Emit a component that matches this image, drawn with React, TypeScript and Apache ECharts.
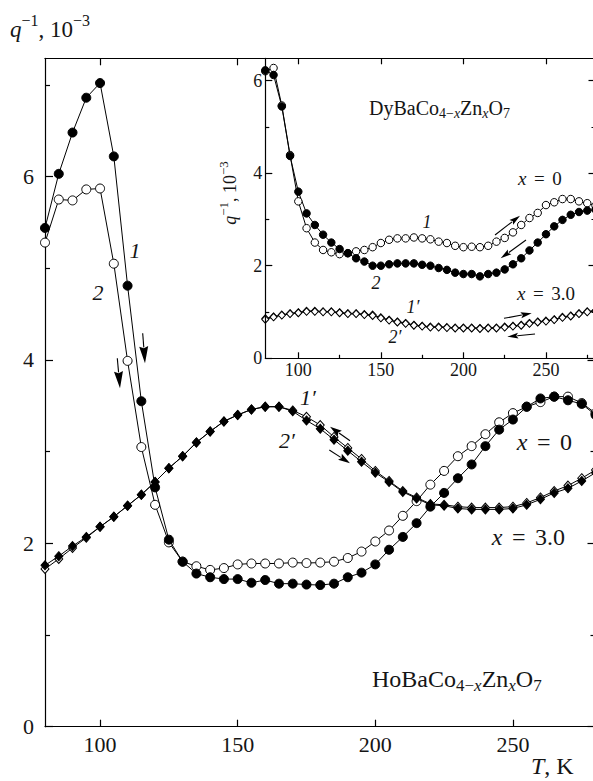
import { useEffect, useRef } from 'react';
import * as echarts from 'echarts';

// ---------- data ----------
const temps = [80, 85, 90, 95, 100, 105, 110, 115, 120, 125, 130, 135, 140, 145, 150, 155, 160, 165, 170, 175, 180, 185, 190, 195, 200, 205, 210, 215, 220, 225, 230, 235, 240, 245, 250, 255, 260, 265, 270, 275, 280];

// main panel, HoBaCo(4-x)Zn(x)O7
const hoX0Curve1 = [5.44, 6.03, 6.48, 6.86, 7.02, 6.22, 4.81, 3.55, 2.61, 2.04, 1.80, 1.67, 1.63, 1.61, 1.61, 1.57, 1.60, 1.56, 1.56, 1.55, 1.545, 1.56, 1.63, 1.68, 1.77, 1.93, 2.07, 2.22, 2.40, 2.55, 2.71, 2.86, 3.06, 3.24, 3.35, 3.49, 3.58, 3.60, 3.56, 3.52, 3.40];
const hoX0Curve2 = [5.28, 5.75, 5.74, 5.86, 5.87, 5.05, 3.99, 3.05, 2.42, 2.01, 1.80, 1.75, 1.71, 1.73, 1.77, 1.78, 1.78, 1.78, 1.79, 1.785, 1.79, 1.80, 1.84, 1.91, 2.02, 2.14, 2.30, 2.46, 2.64, 2.79, 2.95, 3.06, 3.19, 3.32, 3.42, 3.49, 3.54, 3.60, 3.60, 3.53, 3.42];
const hoX3Curve1 = [1.72, 1.83, 1.95, 2.06, 2.18, 2.29, 2.41, 2.53, 2.67, 2.82, 2.95, 3.10, 3.22, 3.33, 3.40, 3.46, 3.49, 3.49, 3.45, 3.38, 3.29, 3.16, 3.04, 2.92, 2.79, 2.68, 2.57, 2.50, 2.43, 2.42, 2.40, 2.39, 2.39, 2.39, 2.40, 2.44, 2.50, 2.57, 2.63, 2.71, 2.80];
const hoX3Curve2 = [1.76, 1.86, 1.97, 2.07, 2.18, 2.29, 2.41, 2.53, 2.67, 2.82, 2.95, 3.10, 3.22, 3.33, 3.40, 3.46, 3.49, 3.49, 3.44, 3.34, 3.25, 3.13, 3.01, 2.89, 2.77, 2.67, 2.56, 2.49, 2.42, 2.41, 2.38, 2.37, 2.37, 2.37, 2.38, 2.42, 2.48, 2.55, 2.60, 2.68, 2.77];

// inset, DyBaCo(4-x)Zn(x)O7
const dyX0Curve1 = [6.20, 6.27, 5.46, 4.39, 3.39, 2.81, 2.50, 2.34, 2.29, 2.25, 2.27, 2.31, 2.34, 2.40, 2.49, 2.56, 2.59, 2.59, 2.61, 2.59, 2.57, 2.52, 2.49, 2.43, 2.40, 2.41, 2.40, 2.43, 2.52, 2.60, 2.72, 2.88, 3.03, 3.14, 3.31, 3.37, 3.44, 3.44, 3.39, 3.35, 3.30];
const dyX0Curve2 = [6.22, 6.12, 5.44, 4.37, 3.60, 3.13, 2.88, 2.67, 2.50, 2.36, 2.27, 2.16, 2.09, 2.00, 2.00, 2.03, 2.05, 2.05, 2.05, 2.02, 2.00, 1.95, 1.91, 1.85, 1.82, 1.82, 1.77, 1.82, 1.85, 1.92, 2.03, 2.16, 2.33, 2.50, 2.68, 2.85, 2.99, 3.10, 3.16, 3.19, 3.21];
const dyX3Curve1 = [0.86, 0.90, 0.94, 0.97, 0.99, 1.02, 1.02, 1.01, 1.01, 0.99, 0.97, 0.97, 0.95, 0.94, 0.88, 0.83, 0.79, 0.76, 0.72, 0.70, 0.68, 0.68, 0.67, 0.66, 0.66, 0.66, 0.65, 0.66, 0.66, 0.68, 0.70, 0.72, 0.76, 0.79, 0.81, 0.84, 0.89, 0.92, 0.97, 1.01, 1.03];
const dyX3Curve2 = [0.84, 0.89, 0.93, 0.96, 0.98, 1.01, 1.01, 1.00, 1.00, 0.98, 0.96, 0.96, 0.94, 0.92, 0.87, 0.82, 0.78, 0.75, 0.71, 0.69, 0.67, 0.67, 0.66, 0.65, 0.65, 0.65, 0.64, 0.65, 0.65, 0.67, 0.69, 0.71, 0.75, 0.78, 0.80, 0.83, 0.88, 0.91, 0.96, 1.00, 1.02];

// ticks
const xMajorTicks = [100, 150, 200, 250];
const insetXMinorTicks = [125, 175, 225, 275];
const mainYMajorTicks = [0, 2, 4, 6];
const mainYMinorTicks = [1, 3, 5, 7];
const insetYMajorTicks = [0, 2, 4, 6];
const insetYMinorTicks = [1, 3, 5];

// ---------- layout / style ----------
const FONT = '"Liberation Serif", "DejaVu Serif", serif';
const TXT = '#151515';
const AXL = { color: '#000', width: 1.2 };
const MAIN = { left: 45, right: 595.5, top: 58.3, bottom: 726.7, min: 80, max: 280, ymax: 7.29 };
const INSET = { left: 265.3, right: 595.5, top: 58.3, bottom: 358.3, min: 80, max: 280, ymax: 6.48 };

const mkAxis = (o: any) => ({
  type: 'value',
  gridIndex: o.grid,
  position: o.pos,
  min: o.min,
  max: o.max,
  z: o.z,
  silent: true,
  axisLine: { show: o.line !== false, onZero: false, lineStyle: AXL },
  axisTick: { show: true, inside: true, length: o.len, customValues: o.ticks, lineStyle: AXL },
  axisLabel: o.labels
    ? { show: true, customValues: o.labels, fontSize: o.fs, fontFamily: FONT, color: TXT, margin: o.margin }
    : { show: false },
  splitLine: { show: false },
  minorTick: { show: false },
  axisPointer: { show: false },
});

const mkSeries = (data: number[], xi: number, yi: number, symbol: string, size: any, filled: boolean, z: number) => ({
  type: 'line',
  data: temps.map((t, i) => [t, data[i]]),
  xAxisIndex: xi,
  yAxisIndex: yi,
  symbol,
  symbolSize: size,
  showSymbol: true,
  showAllSymbol: true,
  lineStyle: { color: '#000', width: 1 },
  itemStyle: { color: filled ? '#000' : '#fff', borderColor: '#000', borderWidth: 1 },
  emphasis: { disabled: true },
  silent: true,
  z,
});

const richFor = (F: number) => ({
  b: { fontSize: F, fontFamily: FONT, fill: TXT, color: TXT },
  i: { fontSize: F, fontFamily: FONT, fontStyle: 'italic', fill: TXT, color: TXT },
  s: { fontSize: Math.round(F * 0.7), fontFamily: FONT, fill: TXT, color: TXT, padding: [F * 0.55, 0, 0, 0] },
  si: { fontSize: Math.round(F * 0.7), fontFamily: FONT, fontStyle: 'italic', fill: TXT, color: TXT, padding: [F * 0.55, 0, 0, 0] },
  p: { fontSize: Math.round(F * 0.7), fontFamily: FONT, fill: TXT, color: TXT, padding: [0, 0, F * 0.7, 0] },
  eq: { fontSize: F, fontFamily: FONT, fill: TXT, color: TXT, padding: [0, F * 0.4, 0, F * 0.4] },
});

const txt = (x: number, y: number, text: string, F: number, align = 'left', extra: any = {}) => ({
  type: 'text',
  x,
  y,
  z: 30,
  silent: true,
  style: {
    text,
    rich: richFor(F),
    fontSize: F,
    fontFamily: FONT,
    fill: TXT,
    align,
    textAlign: align,
    verticalAlign: 'middle',
    textVerticalAlign: 'middle',
  },
  ...extra,
});

const arrow = (x1: number, y1: number, x2: number, y2: number, hl: number, hw: number) => {
  const dx = x2 - x1;
  const dy = y2 - y1;
  const L = Math.hypot(dx, dy);
  const ux = dx / L;
  const uy = dy / L;
  const bx = x2 - ux * hl;
  const by = y2 - uy * hl;
  const px = (-uy * hw) / 2;
  const py = (ux * hw) / 2;
  return [
    { type: 'line', z: 30, silent: true, shape: { x1, y1, x2: bx + ux, y2: by + uy }, style: { stroke: '#000', lineWidth: 1.1 } },
    {
      type: 'polygon',
      z: 30,
      silent: true,
      shape: { points: [[x2, y2], [bx + px, by + py], [bx + ux * 2, by + uy * 2], [bx - px, by - py]] },
      style: { fill: '#000' },
    },
  ];
};

export default function App() {
  const ref = useRef<HTMLDivElement>(null);
  useEffect(() => {
    const chart = echarts.init(ref.current!, null, { renderer: 'svg' });
    const option: any = {
      animation: false,
      backgroundColor: '#fff',
      grid: [
        {
          left: MAIN.left, top: MAIN.top, width: MAIN.right - MAIN.left, height: MAIN.bottom - MAIN.top,
          containLabel: false, outerBoundsMode: 'none', show: false,
        },
        {
          left: INSET.left, top: INSET.top, width: INSET.right - INSET.left, height: INSET.bottom - INSET.top,
          containLabel: false, outerBoundsMode: 'none', show: false,
        },
      ],
      xAxis: [
        mkAxis({ grid: 0, pos: 'bottom', min: MAIN.min, max: MAIN.max, ticks: xMajorTicks, len: 7, labels: xMajorTicks, fs: 22, margin: 7, z: 1 }),
        mkAxis({ grid: 0, pos: 'top', min: MAIN.min, max: MAIN.max, ticks: xMajorTicks, len: 7, z: 1 }),
        mkAxis({ grid: 1, pos: 'bottom', min: INSET.min, max: INSET.max, ticks: xMajorTicks, len: 6, labels: xMajorTicks, fs: 18, margin: 3, z: 11 }),
        mkAxis({ grid: 1, pos: 'bottom', min: INSET.min, max: INSET.max, ticks: insetXMinorTicks, len: 3.5, line: false, z: 11 }),
        mkAxis({ grid: 1, pos: 'top', min: INSET.min, max: INSET.max, ticks: xMajorTicks, len: 6, z: 11 }),
      ],
      yAxis: [
        mkAxis({ grid: 0, pos: 'left', min: 0, max: MAIN.ymax, ticks: mainYMajorTicks, len: 8, labels: mainYMajorTicks, fs: 22, margin: 11, z: 1 }),
        mkAxis({ grid: 0, pos: 'left', min: 0, max: MAIN.ymax, ticks: mainYMinorTicks, len: 5, line: false, z: 1 }),
        mkAxis({ grid: 0, pos: 'right', min: 0, max: MAIN.ymax, ticks: mainYMajorTicks, len: 8, z: 1 }),
        mkAxis({ grid: 0, pos: 'right', min: 0, max: MAIN.ymax, ticks: mainYMinorTicks, len: 5, line: false, z: 1 }),
        mkAxis({ grid: 1, pos: 'left', min: 0, max: INSET.ymax, ticks: insetYMajorTicks, len: 7, labels: insetYMajorTicks, fs: 18, margin: 3, z: 11 }),
        mkAxis({ grid: 1, pos: 'left', min: 0, max: INSET.ymax, ticks: insetYMinorTicks, len: 4, line: false, z: 11 }),
        mkAxis({ grid: 1, pos: 'right', min: 0, max: INSET.ymax, ticks: insetYMajorTicks, len: 7, z: 11 }),
        mkAxis({ grid: 1, pos: 'right', min: 0, max: INSET.ymax, ticks: insetYMinorTicks, len: 4, line: false, z: 11 }),
      ],
      series: [
        mkSeries(hoX3Curve1, 0, 0, 'diamond', [8, 9], false, 2),
        mkSeries(hoX3Curve2, 0, 0, 'diamond', [8, 9], true, 3),
        mkSeries(hoX0Curve2, 0, 0, 'circle', 9, false, 2),
        mkSeries(hoX0Curve1, 0, 0, 'circle', 9, true, 3),
        mkSeries(dyX3Curve1, 2, 4, 'diamond', [7, 7.5], false, 10),
        mkSeries(dyX3Curve2, 2, 4, 'diamond', [7, 7.5], false, 10),
        mkSeries(dyX0Curve1, 2, 4, 'circle', 7.5, false, 10),
        mkSeries(dyX0Curve2, 2, 4, 'circle', 7.5, true, 10),
      ],
      graphic: {
        elements: [
          {
            type: 'rect', z: 5, silent: true,
            shape: { x: INSET.left, y: INSET.top, width: INSET.right - INSET.left, height: INSET.bottom - INSET.top },
            style: { fill: '#fff' },
          },
          // main panel texts
          txt(10, 29, '{i|q}{p|−1}{b|, 10}{p|−3}', 23),
          txt(531, 766, '{i|T}{b|, K}', 24),
          txt(135, 250, '{i|1}', 22, 'center'),
          txt(98, 292, '{i|2}', 22, 'center'),
          txt(308, 397, '{i|1′}', 22, 'center'),
          txt(287, 440, '{i|2′}', 22, 'center'),
          txt(516.7, 441.7, '{i|x}{eq|=}{b|0}', 24),
          txt(491.7, 536.7, '{i|x}{eq|=}{b|3.0}', 24),
          txt(372, 679, '{b|HoBaCo}{s|4−}{si|x}{b|Zn}{si|x}{b|O}{s|7}', 24),
          // inset texts
          txt(369, 108, '{b|DyBaCo}{s|4−}{si|x}{b|Zn}{si|x}{b|O}{s|7}', 20),
          txt(518, 178, '{i|x}{eq|=}{b|0}', 19),
          txt(517, 293, '{i|x}{eq|=}{b|3.0}', 19),
          txt(427, 222, '{i|1}', 18, 'center'),
          txt(376, 283, '{i|2}', 18, 'center'),
          txt(413, 307, '{i|1′}', 18, 'center'),
          txt(395, 337, '{i|2′}', 18, 'center'),
          txt(230, 193, '{i|q}{p|−1}{b|, 10}{p|−3}', 18, 'center', { rotation: Math.PI / 2 }),
          // arrows
          ...arrow(117.3, 358.3, 120, 388.3, 17, 9),
          ...arrow(142.7, 333.3, 145, 363.3, 17, 9),
          ...arrow(350, 440.7, 330, 426.7, 12, 7),
          ...arrow(329.3, 450, 350, 463.3, 12, 7),
          ...arrow(495, 235, 520, 215.7, 11, 6),
          ...arrow(526, 240, 500.7, 258.3, 11, 6),
          ...arrow(504, 318.3, 531.7, 313.3, 11, 6),
          ...arrow(535, 334, 507.3, 336.7, 11, 6),
        ],
      },
    };
    chart.setOption(option);
    return () => chart.dispose();
  }, []);
  return (
    <div style={{ position: 'fixed', left: 0, top: 0, width: 593, height: 781, overflow: 'hidden', background: '#fff' }}>
      <div ref={ref} style={{ width: 600, height: 781 }} />
    </div>
  );
}
